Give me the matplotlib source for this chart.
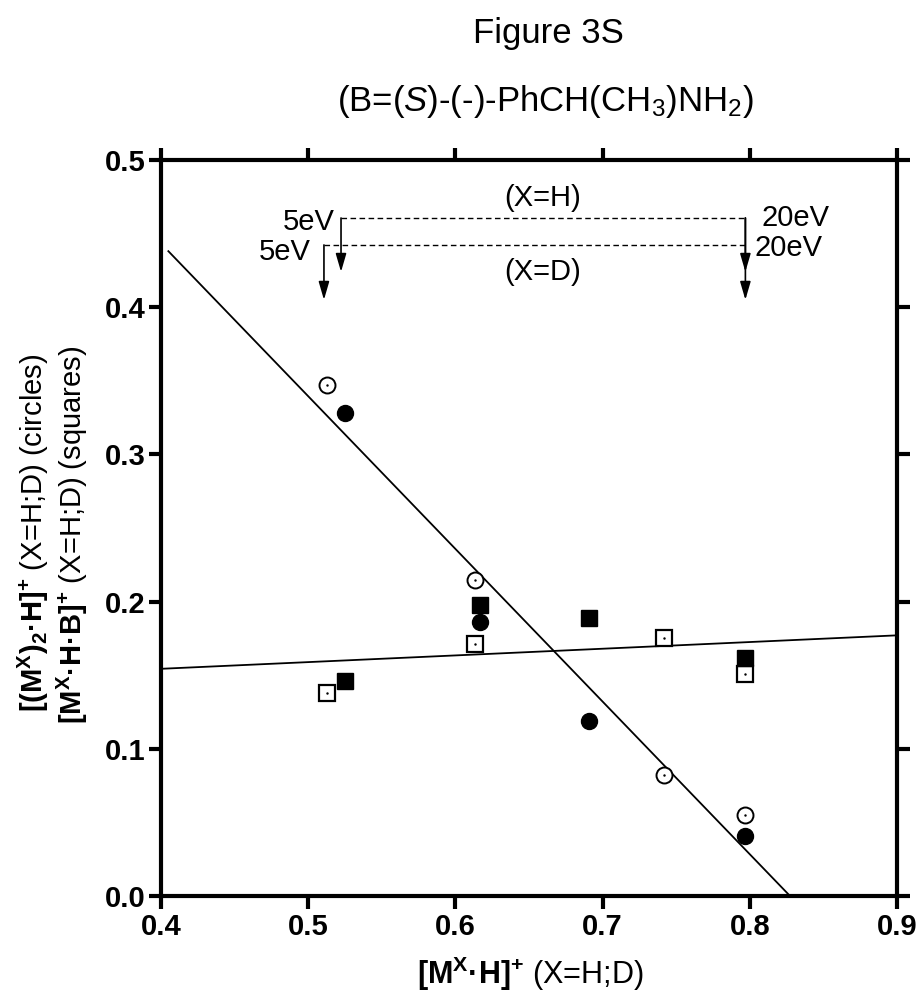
import matplotlib
matplotlib.use("Agg")
import matplotlib.pyplot as plt
import numpy as np

plt.rcParams['font.family'] = ['Liberation Sans', 'DejaVu Sans']
plt.rcParams['mathtext.fontset'] = 'custom'
plt.rcParams['mathtext.rm'] = 'Liberation Sans'
plt.rcParams['mathtext.bf'] = 'Liberation Sans:bold'
plt.rcParams['mathtext.it'] = 'Liberation Sans:italic'

# circles: [(M^X)2.H]+ ; squares: [M^X.H.B]+   (open = X=H, filled = X=D)
x_open = [0.513, 0.613, 0.742, 0.797]
x_fill = [0.525, 0.617, 0.691, 0.797]
circ_open = [0.347, 0.215, 0.082, 0.055]
circ_fill = [0.328, 0.186, 0.119, 0.041]
sq_open = [0.138, 0.171, 0.175, 0.151]
sq_fill = [0.146, 0.198, 0.189, 0.162]

xticks = [0.4, 0.5, 0.6, 0.7, 0.8, 0.9]
yticks = [0.0, 0.1, 0.2, 0.3, 0.4, 0.5]

# energy markers (x positions of 5eV / 20eV points)
ev_h = [0.5223, 0.797]
ev_d = [0.5107, 0.797]

fig = plt.figure(figsize=(9.18, 9.98), dpi=100)
ax = fig.add_axes([161/918, 1-896/998, 736/918, 736/998])

# regression lines
cx = np.array(x_open + x_fill)
cy = np.array(circ_open + circ_fill)
a1, b1 = np.polyfit(cx, cy, 1)
xl1 = np.array([0.405, -b1/a1])
ax.plot(xl1, a1*xl1 + b1, color='black', lw=1.3, zorder=2)

sy = np.array(sq_open + sq_fill)
a2, b2 = np.polyfit(cx, sy, 1)
xl2 = np.array([0.4, 0.9])
ax.plot(xl2, a2*xl2 + b2, color='black', lw=1.3, zorder=2)

ms = 11.5
ax.plot(x_open, circ_open, 'o', ms=ms, mfc='white', mec='black', mew=1.4, ls='none', zorder=3)
ax.plot(x_fill, circ_fill, 'o', ms=ms, mfc='black', mec='black', ls='none', zorder=3)
ax.plot(x_open, sq_open, 's', ms=ms, mfc='white', mec='black', mew=1.6, ls='none', zorder=3)
ax.plot(x_fill, sq_fill, 's', ms=ms, mfc='black', mec='black', ls='none', zorder=3)
ax.plot(x_open + x_open, circ_open + sq_open, '.', ms=1.5, color='black', ls='none', zorder=4)

# dashed energy lines and arrows
y_h, y_d = 0.4606, 0.4423
tip_h, tip_d = 0.424, 0.405
ax.plot(ev_h, [y_h, y_h], color='black', lw=1.0, ls=(0, (4, 2.5)))
ax.plot(ev_d, [y_d, y_d], color='black', lw=1.0, ls=(0, (4, 2.5)))
arr = dict(arrowstyle='-|>,head_length=0.55,head_width=0.16', color='black', lw=1.2,
           shrinkA=0, shrinkB=0, mutation_scale=20)
ax.annotate('', xy=(ev_h[0], tip_h), xytext=(ev_h[0], y_h), arrowprops=arr)
ax.annotate('', xy=(ev_d[0], tip_d), xytext=(ev_d[0], y_d), arrowprops=arr)
ax.annotate('', xy=(ev_h[1], tip_h), xytext=(ev_h[1], y_h), arrowprops=arr)
ax.annotate('', xy=(ev_d[1], tip_d), xytext=(ev_h[1], y_h), arrowprops=arr)

fs_ann = 21
ax.text(ev_h[0] - 0.004, y_h - 0.003, '5eV', fontsize=fs_ann, ha='right', va='center')
ax.text(ev_d[0] - 0.009, y_d - 0.005, '5eV', fontsize=fs_ann, ha='right', va='center')
ax.text(0.808, y_h, '20eV', fontsize=fs_ann, ha='left', va='center')
ax.text(0.803, y_d - 0.002, '20eV', fontsize=fs_ann, ha='left', va='center')
ax.text(0.659, 0.474, '(X=H)', fontsize=fs_ann, ha='center', va='center')
ax.text(0.659, 0.424, '(X=D)', fontsize=fs_ann, ha='center', va='center')

ax.set_xlim(0.4, 0.9)
ax.set_ylim(0.0, 0.5)
ax.set_xticks(xticks)
ax.set_yticks(yticks)
ax.set_xticklabels([f'{v:.1f}' for v in xticks])
ax.set_yticklabels([f'{v:.1f}' for v in yticks])
for s in ax.spines.values():
    s.set_linewidth(3.0)
ax.tick_params(axis='both', which='major', direction='out', length=9, width=3.0,
               top=True, right=True, labelsize=21, pad=2)
ax.tick_params(axis='x', pad=3)
for lab in ax.get_xticklabels() + ax.get_yticklabels():
    lab.set_fontweight('bold')

fig.text(548/918, 1-34/998, 'Figure 3S', fontsize=25, ha='center', va='center')
fig.text(545/918, 1-102/998, r'(B=($\mathit{S}$)-(-)-PhCH(CH$_3$)NH$_2$)',
         fontsize=25, ha='center', va='center')

fig.text(530/918, 1-974/998, r'$\mathbf{[M^{X}·H]^{+}}$ (X=H;D)', fontsize=22,
         ha='center', va='center')
fig.text(33/918, 1-533/998, r'$\mathbf{[(M^{X})_{2}·H]^{+}}$ (X=H;D) (circles)',
         fontsize=21, ha='center', va='center', rotation=90)
fig.text(72/918, 1-535/998, r'$\mathbf{[M^{X}·H·B]^{+}}$ (X=H;D) (squares)',
         fontsize=21, ha='center', va='center', rotation=90)

fig.savefig('out.png', dpi=100)
